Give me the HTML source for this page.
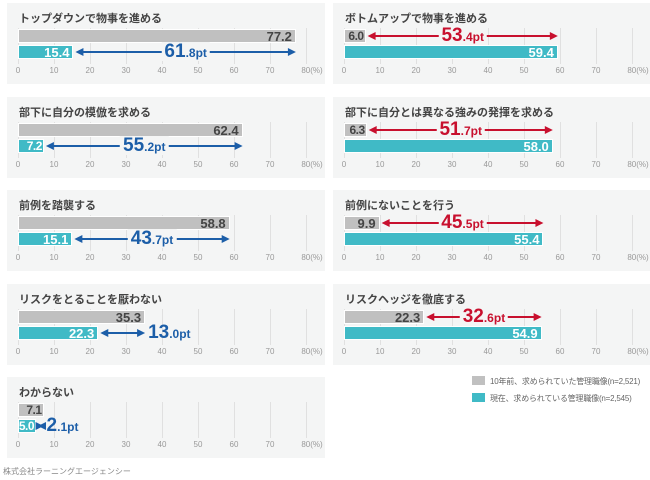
<!DOCTYPE html>
<html><head><meta charset="utf-8"><style>
body{margin:0;width:650px;height:480px;background:#fff;font-family:"Liberation Sans","Noto Sans CJK JP",sans-serif;position:relative;overflow:hidden}
.panel{position:absolute;background:#f4f5f5;width:318px;height:81px}
.title{position:absolute;left:12px;top:7px;font-size:11px;font-weight:bold;color:#444}
.grid{position:absolute;top:25px;width:1px;height:36px;background:#e0e0e0}
.tick{position:absolute;top:63px;font-size:8px;color:#999;transform:translateX(-50%)}
.bar{position:absolute;height:14px;box-sizing:border-box;border:1px solid #fff}
.val{position:absolute;right:3px;top:-1px;font-size:13px;font-weight:bold;font-family:"Liberation Sans Narrow","Liberation Sans",sans-serif}
.diff{position:absolute;font-weight:bold;font-family:"Liberation Sans Narrow","Liberation Sans",sans-serif;white-space:nowrap;line-height:1;padding:0 3px}
.diff b{font-size:19px}.diff span{font-size:12px}
.leg{position:absolute;font-size:8px;color:#666;white-space:nowrap;letter-spacing:-0.2px}
.leg i{display:inline-block;width:13px;height:9px;vertical-align:-1px;margin-right:5px}
</style></head><body>
<div id="root"></div>
<div class="leg" style="left:472px;top:376px"><i style="background:#c0c0c0"></i>10年前、求められていた管理職像(n=2,521)</div>
<div class="leg" style="left:472px;top:393px"><i style="background:#40bac6"></i>現在、求められている管理職像(n=2,545)</div>
<div style="position:absolute;left:3px;top:466px;font-size:8px;color:#888">株式会社ラーニングエージェンシー</div>
<script>
const titles=["トップダウンで物事を進める","ボトムアップで物事を進める","部下に自分の模倣を求める","部下に自分とは異なる強みの発揮を求める","前例を踏襲する","前例にないことを行う","リスクをとることを厭わない","リスクヘッジを徹底する","わからない"];
const pastValues=[77.2,6.0,62.4,6.3,58.8,9.9,35.3,22.3,7.1];
const nowValues=[15.4,59.4,7.2,58.0,15.1,55.4,22.3,54.9,5.0];
const diffLabels=["61.8","53.4","55.2","51.7","43.7","45.5","13.0","32.6","2.1"];
const ticks=[0,10,20,30,40,50,60,70,80];
const root=document.getElementById('root');
function x(v){return 11+v*3.6;}
titles.forEach((t,i)=>{
  const col=i%2,row=Math.floor(i/2);
  const p=document.createElement('div');p.className='panel';
  
  
  p.style.left=(col?333:7)+'px';p.style.top=(3+row*93.5)+'px';
  let h='<div class="title">'+t+'</div>';
  ticks.forEach(k=>{h+='<div class="grid" style="left:'+x(k)+'px"></div><div class="tick" style="left:'+(x(k)+(k==80?6:0))+'px">'+(k==80?'80(%)':k)+'</div>';});
  p.innerHTML=h;
  const pv=pastValues[i],nv=nowValues[i];
  [[pv,26,'#c0c0c0','#444'],[nv,42,'#40bac6','#fff']].forEach(([v,y,c,tc],j)=>{
    const b=document.createElement('div');b.className='bar';
    
    
    b.style.left=x(0)+'px';b.style.top=y+'px';b.style.width=(x(v)-x(0))+'px';b.style.background=c;
    b.innerHTML='<div class="val" style="color:'+tc+(v<8?';right:1px;font-size:12px;letter-spacing:-0.5px':'')+'">'+v.toFixed(1)+'</div>';
    p.appendChild(b);
  });
  const lo=Math.min(pv,nv),hi=Math.max(pv,nv);
  const ay=(pv<nv?26:42)+7;
  const color=col?'#c8102e':'#1c5ea8';
  const x1=x(lo)+2,x2=x(hi);
  const svg=document.createElementNS('http://www.w3.org/2000/svg','svg');
  
  
  svg.setAttribute('width','318');svg.setAttribute('height','81');
  svg.style.position='absolute';svg.style.left='0';svg.style.top='0';
  svg.innerHTML='<line x1="'+(x1+5)+'" y1="'+ay+'" x2="'+(x2-5)+'" y2="'+ay+'" stroke="'+color+'" stroke-width="2"/><polygon points="'+x1+','+ay+' '+(x1+8)+','+(ay-4)+' '+(x1+8)+','+(ay+4)+'" fill="'+color+'"/><polygon points="'+x2+','+ay+' '+(x2-8)+','+(ay-4)+' '+(x2-8)+','+(ay+4)+'" fill="'+color+'"/>';
  p.appendChild(svg);
  const d=document.createElement('div');d.className='diff';
  
  
  const parts=diffLabels[i].split('.');
  d.innerHTML='<b>'+parts[0]+'</b><span>.'+parts[1]+'pt</span>';
  d.style.color=color;d.style.top=(ay-10)+'px';
  p.appendChild(d);
  if(hi-lo<20){d.style.left=(x2)+'px';}
  else{d.style.background='#f4f5f5';d.style.left=((x1+x2)/2)+'px';d.style.transform='translateX(-50%)';}
  root.appendChild(p);
});
</script>
</body></html>
